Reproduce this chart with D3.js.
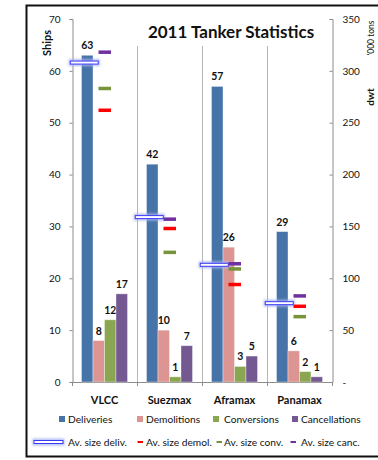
<!DOCTYPE html>
<html>
<head>
<meta charset="utf-8">
<script src="https://cdn.jsdelivr.net/npm/d3@7"></script>
<style>
  html, body { margin: 0; padding: 0; background: #fff; }
  svg { display: block; font-family: Lato, "Open Sans", sans-serif; }
</style>
</head>
<body>
<svg id="chart" width="378" height="460"></svg>
<script>
// Tanker categories and ship counts per activity
const categories = ["VLCC", "Suezmax", "Aframax", "Panamax"];
const series = ["Deliveries", "Demolitions", "Conversions", "Cancellations"];
const deliveries = [63, 42, 57, 29];
const demolitions = [8, 10, 26, 6];
const conversions = [12, 1, 3, 2];
const cancellations = [17, 7, 5, 1];

// Average vessel size, dwt '000 tons (right axis)
const avSizeNames = ["Av. size deliv.", "Av. size demol.", "Av. size conv.", "Av. size canc."];
const avDeliv = [308, 159, 113, 76];
const avDemol = [262, 148, 94, 73];
const avConv = [283, 125, 109, 63];
const avCanc = [318, 157, 114, 83];

const leftTicks = [0, 10, 20, 30, 40, 50, 60, 70];
const rightTicks = [0, 50, 100, 150, 200, 250, 300, 350];

const barColors = ["#4674a9", "#dc9593", "#8ba651", "#735892"];
const avColors = ["#3b3bf5", "#ff0000", "#77933c", "#7030a0"];

const counts = [deliveries, demolitions, conversions, cancellations];
const avSizes = [avDeliv, avDemol, avConv, avCanc];

const svg = d3.select("#chart");

// outer frame
svg.append("rect")
  .attr("x", 26.5).attr("y", 5.5).attr("width", 360).attr("height", 451)
  .attr("fill", "#fff").attr("stroke", "#111").attr("stroke-width", 2);

const plotLeft = 72, plotRight = 332, plotTop = 19, plotBottom = 382;

const x = d3.scaleBand().domain(categories).range([plotLeft, plotRight]).padding(0);
const xs = d3.scaleBand().domain(series).range([9.5, 55.5]).padding(0);
const y = d3.scaleLinear().domain([0, 70]).range([plotBottom, plotTop]);
const y2 = d3.scaleLinear().domain([0, 350]).range([plotBottom, plotTop]);

// vertical category separators
svg.append("g").selectAll("line")
  .data(categories.slice(1))
  .join("line")
  .attr("x1", d => x(d) + 0.5).attr("x2", d => x(d) + 0.5)
  .attr("y1", 46).attr("y2", plotBottom + 3)
  .attr("stroke", "#b5b5b5").attr("stroke-width", 1);

// left axis
const leftAxis = d3.axisLeft(y).tickValues(leftTicks).tickSize(3).tickPadding(9);
const gL = svg.append("g").attr("transform", `translate(${plotLeft + 0.5},0)`).call(leftAxis);
gL.select(".domain").attr("stroke", "#8c8c8c");
gL.selectAll(".tick line").attr("stroke", "#8c8c8c");
gL.selectAll(".tick text").attr("font-size", 10).attr("fill", "#111").attr("font-family", "Lato");

// right axis ("-" for zero)
const rightAxis = d3.axisRight(y2).tickValues(rightTicks).tickSize(-3).tickPadding(10)
  .tickFormat(d => d === 0 ? "-" : d);
const gR = svg.append("g").attr("transform", `translate(${plotRight + 0.5},0)`).call(rightAxis);
gR.select(".domain").attr("stroke", "#8c8c8c");
gR.selectAll(".tick line").attr("stroke", "#8c8c8c");
gR.selectAll(".tick text").attr("font-size", 10).attr("fill", "#111").attr("font-family", "Lato");

// bottom axis
const gB = svg.append("g");
gB.append("line").attr("x1", plotLeft).attr("x2", plotRight + 1)
  .attr("y1", plotBottom + 0.5).attr("y2", plotBottom + 0.5).attr("stroke", "#8c8c8c");
gB.selectAll("line.tk").data(categories.concat(["end"]))
  .join("line").attr("class", "tk")
  .attr("x1", (d, i) => (i < categories.length ? x(d) : plotRight) + 0.5)
  .attr("x2", (d, i) => (i < categories.length ? x(d) : plotRight) + 0.5)
  .attr("y1", plotBottom).attr("y2", plotBottom + 4)
  .attr("stroke", "#8c8c8c");
gB.selectAll("text").data(categories).join("text")
  .attr("x", d => x(d) + x.bandwidth() / 2).attr("y", 404)
  .attr("text-anchor", "middle").attr("font-weight", "bold").attr("font-size", 11)
  .attr("fill", "#111").text(d => d);

// bars
const barG = svg.append("g");
series.forEach((s, si) => {
  const vals = counts[si];
  barG.append("g").selectAll("rect")
    .data(categories.map((c, ci) => ({ c, v: vals[ci] })))
    .join("rect")
    .attr("x", d => x(d.c) + xs(s))
    .attr("y", d => y(d.v))
    .attr("width", xs.bandwidth())
    .attr("height", d => y(0) - y(d.v))
    .attr("fill", barColors[si])
    .attr("stroke", "rgba(255,255,255,0.45)").attr("stroke-width", 0.8);
  barG.append("g").selectAll("text")
    .data(categories.map((c, ci) => ({ c, v: vals[ci] })))
    .join("text")
    .attr("x", d => x(d.c) + xs(s) + xs.bandwidth() / 2)
    .attr("y", d => y(d.v) - 6)
    .attr("text-anchor", "middle").attr("font-weight", "bold").attr("font-size", 10.5)
    .attr("fill", "#111").text(d => d.v);
});

// glow filter for the delivery size marker
const defs = svg.append("defs");
defs.append("filter").attr("id", "glow").attr("x", "-20%").attr("y", "-150%")
  .attr("width", "140%").attr("height", "400%")
  .append("feGaussianBlur").attr("stdDeviation", 1.1);

function delivMarker(g, cx, cy, w) {
  g.append("rect").attr("x", cx - w / 2 - 1).attr("y", cy - 3.5).attr("width", w + 2).attr("height", 7)
    .attr("fill", "#aab4f4").attr("opacity", 0.85).attr("filter", "url(#glow)");
  g.append("rect").attr("x", cx - w / 2 + 0.5).attr("y", cy - 1.5).attr("width", w - 1).attr("height", 3)
    .attr("fill", "#fff").attr("stroke", avColors[0]).attr("stroke-width", 1);
}

// average size markers
const mk = svg.append("g");
categories.forEach((c, ci) => {
  const cx = x(c) + xs("Deliveries") + xs.bandwidth() / 2 - 3;
  delivMarker(mk, cx, y2(avDeliv[ci]), 29);
});
[1, 2, 3].forEach(si => {
  mk.append("g").selectAll("rect")
    .data(categories.map((c, ci) => ({ c, v: avSizes[si][ci] })))
    .join("rect")
    .attr("x", d => x(d.c) + x.bandwidth() / 2 - 6)
    .attr("y", d => y2(d.v) - 1.75)
    .attr("width", 12.5).attr("height", 3.5)
    .attr("fill", avColors[si]);
});

// title
svg.append("text").attr("x", 231).attr("y", 38).attr("text-anchor", "middle")
  .attr("font-weight", "bold").attr("font-size", 17).attr("fill", "#111")
  .text("2011 Tanker Statistics");

// axis titles
svg.append("text").attr("transform", "translate(51,43) rotate(-90)")
  .attr("text-anchor", "middle").attr("font-weight", "bold").attr("font-size", 11)
  .attr("fill", "#111").text("Ships");
svg.append("text").attr("transform", "translate(374,97) rotate(-90)")
  .attr("text-anchor", "middle").attr("font-weight", "bold").attr("font-size", 10)
  .attr("fill", "#111").text("dwt");
svg.append("text").attr("transform", "translate(374,38) rotate(-90)")
  .attr("text-anchor", "middle").attr("font-size", 8.5)
  .attr("fill", "#111").text("'000 tons");

// legend row 1: bar series
const legSwatchX = [59, 137, 213, 292];
const legTextX = [68, 146, 224, 301];
const leg1 = svg.append("g");
series.forEach((s, i) => {
  leg1.append("rect").attr("x", legSwatchX[i]).attr("y", 416).attr("width", 6).attr("height", 6)
    .attr("fill", barColors[i]);
  leg1.append("text").attr("x", legTextX[i]).attr("y", 423).attr("font-size", 10.2)
    .attr("fill", "#111").text(s);
});

// legend row 2: average size markers
const leg2 = svg.append("g");
delivMarker(leg2, 48.5, 442, 30);
leg2.append("text").attr("x", legTextX[0]).attr("y", 446).attr("font-size", 10.2).attr("fill", "#111").text(avSizeNames[0]);
const legDashX = [null, 137.5, 216.5, 290.5];
[1, 2, 3].forEach(i => {
  leg2.append("rect").attr("x", legDashX[i]).attr("y", 441).attr("width", 5.5).attr("height", 2)
    .attr("fill", avColors[i]);
  leg2.append("text").attr("x", legTextX[i]).attr("y", 446).attr("font-size", 10.2)
    .attr("fill", "#111").text(avSizeNames[i]);
});
</script>
</body>
</html>
